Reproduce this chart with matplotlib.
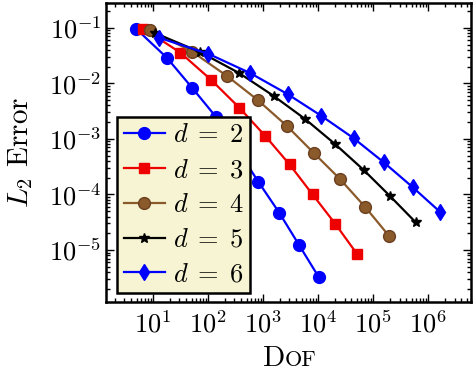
import matplotlib
matplotlib.use("Agg")
import matplotlib.pyplot as plt
from matplotlib.ticker import LogLocator, NullFormatter

plt.rcParams['font.family'] = ['cmr10', 'DejaVu Serif']
plt.rcParams['mathtext.fontset'] = 'cm'
plt.rcParams['axes.formatter.use_mathtext'] = True
plt.rcParams['axes.unicode_minus'] = False

labels = [r"$d\;=\;2$", r"$d\;=\;3$", r"$d\;=\;4$", r"$d\;=\;5$", r"$d\;=\;6$"]

dof_d2 = [4.9, 17.7, 50.6, 138, 336, 811, 1950, 4450, 10100]
err_d2 = [0.096, 0.029, 0.0084, 0.0025, 6.6e-4, 1.7e-4, 4.7e-5, 1.24e-5, 3.3e-6]

dof_d3 = [6.6, 31, 113, 366, 1088, 3006, 7870, 20400, 50500]
err_d3 = [0.097, 0.0359, 0.01156, 0.00366, 0.00113, 3.47e-4, 1.0e-4, 2.95e-5, 8.5e-6]

dof_d4 = [8.8, 50.6, 219, 787, 2690, 8400, 24700, 71600, 193000]
err_d4 = [0.092, 0.0374, 0.0136, 0.00505, 0.00171, 5.5e-4, 1.9e-4, 5.9e-5, 1.79e-5]

dof_d5 = [10.9, 71.6, 366, 1540, 5800, 20400, 66700, 198000, 587000]
err_d5 = [0.080, 0.0365, 0.0153, 0.00595, 0.00227, 8.0e-4, 2.76e-4, 9.5e-5, 3.16e-5]

dof_d6 = [12.5, 101, 580, 2770, 11350, 43800, 154000, 519000, 1650000]
err_d6 = [0.0668, 0.034, 0.0153, 0.0064, 0.0026, 0.00103, 3.8e-4, 1.35e-4, 4.8e-5]

series = [
    (dof_d2, err_d2, dict(color='#0000ff', marker='o', ms=8.5)),
    (dof_d3, err_d3, dict(color='#ee0000', marker='s', ms=7.5)),
    (dof_d4, err_d4, dict(color='#8b5a2b', marker='o', ms=8.5, mec='#6b4020')),
    (dof_d5, err_d5, dict(color='black', marker='*', ms=7)),
    (dof_d6, err_d6, dict(color='#0000ff', marker='d', ms=8)),
]

fig = plt.figure(figsize=(4.74, 3.73), dpi=100)
ax = fig.add_axes([0.224, 0.19, 0.770, 0.802])

for (x, y, st), lab in zip(series, labels):
    ax.plot(x, y, lw=1.6, label=lab, **st)

ax.set_xscale('log')
ax.set_yscale('log')
ax.set_xlim(1.4, 6.0e6)
ax.set_ylim(1.15e-6, 0.28)

ax.xaxis.set_minor_locator(LogLocator(base=10, subs=range(2, 10), numticks=20))
ax.yaxis.set_minor_locator(LogLocator(base=10, subs=range(2, 10), numticks=20))
ax.xaxis.set_minor_formatter(NullFormatter())
ax.yaxis.set_minor_formatter(NullFormatter())
ax.set_xticks([1e1, 1e2, 1e3, 1e4, 1e5, 1e6])
ax.set_yticks([1e-1, 1e-2, 1e-3, 1e-4, 1e-5])

ax.tick_params(which='both', direction='in', top=True, right=True, labelsize=19, width=1)
ax.tick_params(which='major', length=6)
ax.tick_params(which='minor', length=3)
ax.tick_params(axis='x', pad=6)
for sp in ax.spines.values():
    sp.set_linewidth(1.8)

ax.set_ylabel(r"$L_2$ Error", fontsize=21, labelpad=10)
ax.text(0.49, -0.215, "D", transform=ax.transAxes, ha='right', va='baseline', fontsize=21)
ax.text(0.49, -0.215, "OF", transform=ax.transAxes, ha='left', va='baseline', fontsize=16)

leg = ax.legend(loc='lower left', fontsize=19, fancybox=False, framealpha=1,
                facecolor='#f6f4d2', edgecolor='black', borderpad=0.25,
                labelspacing=0.42, handlelength=1.55, handletextpad=0.3,
                borderaxespad=0, numpoints=1,
                bbox_to_anchor=(0.030, 0.030))
leg.get_frame().set_linewidth(1.8)

fig.savefig("out.png", dpi=100)
